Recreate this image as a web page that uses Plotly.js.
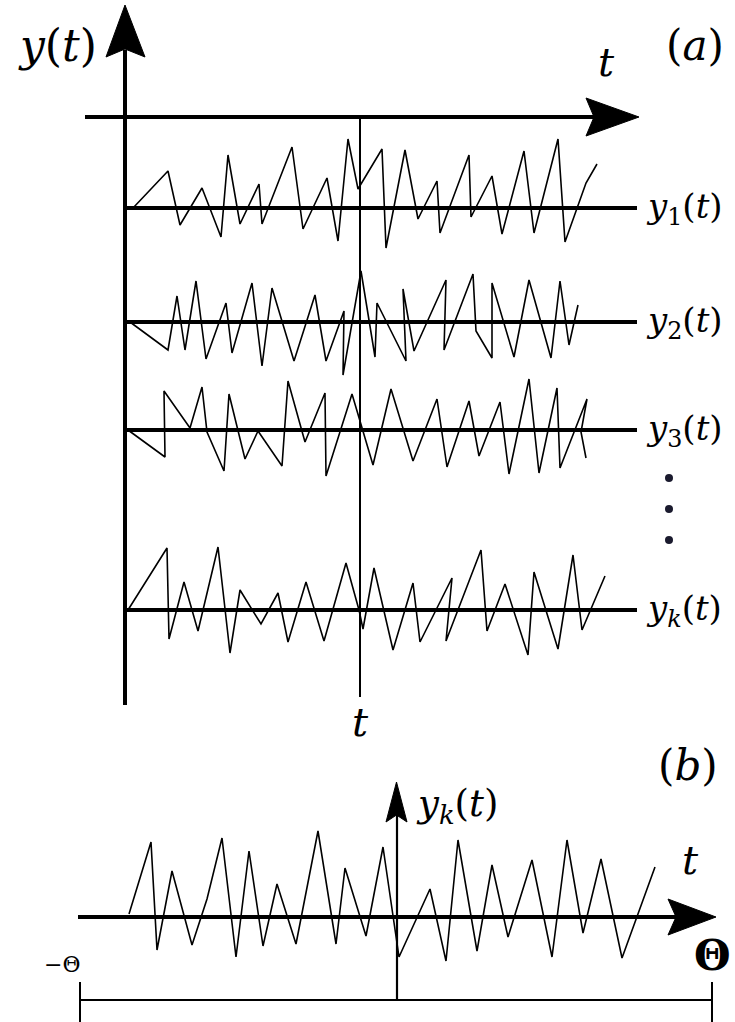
<!DOCTYPE html>
<html>
<head>
<meta charset="utf-8">
<script src="https://cdn.plot.ly/plotly-3.0.1.min.js"></script>
<style>html,body{margin:0;padding:0;background:#fff;}#chart{width:735px;height:1022px;}</style>
</head>
<body>
<div id="chart"></div>
<script>
// ---- data: sample times (t) and signal values (deviation above the row's baseline) ----
const y1_t = [133, 168, 180, 202, 221, 228, 240, 259, 262, 292, 303, 327, 338, 348, 358, 382, 386, 405, 418, 437, 440, 469, 471, 492, 502, 524, 534, 558, 565, 586, 597];
const y1_v = [0, 37, -17, 20, -29, 53, -16, 24, -16, 61, -21, 30, -33, 69, 19, 59, -40, 58, -11, 27, -25, 53, -9, 32, -26, 57, -25, 69, -34, 25, 44];

const y2_t = [130, 168, 177, 185, 196, 206, 226, 232, 252, 262, 272, 294, 315, 326, 344, 343, 361, 375, 377, 406, 403, 414, 446, 444, 473, 476, 492, 492, 514, 529, 551, 560, 569, 578];
const y2_v = [0, -28, 26, -28, 41, -37, 19, -31, 39, -44, 34, -39, 27, -39, 11, -53, 51, -35, 19, -39, 33, -29, 42, -28, 48, -9, -36, 39, -35, 42, -36, 41, -23, 17];

const y3_t = [128, 165, 164, 190, 202, 207, 224, 229, 245, 258, 282, 288, 305, 325, 326, 352, 373, 391, 413, 437, 447, 469, 479, 500, 509, 529, 539, 557, 560, 587, 581, 586];
const y3_v = [0, -27, 39, 2, 43, -2, -41, 36, -29, -1, -36, 49, -12, 37, -46, 36, -35, 41, -31, 31, -37, 29, -26, 28, -44, 51, -43, 42, -38, 31, -2, -28];

const yk_t = [128, 167, 169, 184, 198, 218, 230, 240, 261, 278, 288, 306, 324, 346, 359, 363, 374, 393, 413, 420, 452, 446, 481, 487, 505, 528, 534, 558, 573, 582, 605];
const yk_v = [0, 62, -29, 28, -21, 63, -43, 20, -14, 17, -32, 28, -31, 47, 0, -19, 42, -40, 27, -32, 32, -31, 60, -21, 26, -45, 38, -39, 55, -20, 34];

const yb_t = [129, 151, 157, 172, 192, 207, 222, 236, 249, 263, 277, 296, 318, 336, 345, 366, 383, 399, 430, 446, 458, 477, 492, 508, 532, 552, 567, 583, 601, 622, 655];
const yb_v = [3, 75, -33, 46, -28, 18, 79, -40, 66, -29, 33, -27, 86, -27, 49, -19, 70, -40, 28, -44, 77, -34, 52, -20, 57, -40, 77, -16, 58, -41, 50];

const rowNames = ['y1', 'y2', 'y3', 'yk'];
const rowLabels = ['<i>y</i><sub>1</sub>(<i>t</i>)', '<i>y</i><sub>2</sub>(<i>t</i>)', '<i>y</i><sub>3</sub>(<i>t</i>)', '<i>y<sub>k</sub></i>(<i>t</i>)'];

// ---- layout geometry (figure coordinates) ----
const baselines = [208, 322, 430, 610];
const baseB = 917;
const serif = 'DejaVu Serif, Liberation Serif, serif';

const rows = [[y1_t, y1_v], [y2_t, y2_v], [y3_t, y3_v], [yk_t, yk_v]];
const traces = [];
rows.forEach(function (r, i) {
  traces.push({
    x: r[0], y: r[1].map(function (v) { return baselines[i] - v; }),
    type: 'scatter', mode: 'lines', name: rowNames[i],
    line: {color: '#000', width: 1.6}, hoverinfo: 'skip', showlegend: false
  });
});
traces.push({
  x: yb_t, y: yb_v.map(function (v) { return baseB - v; }),
  type: 'scatter', mode: 'lines', name: 'yk (b)',
  line: {color: '#000', width: 1.6}, hoverinfo: 'skip', showlegend: false
});
// dots (vertical ellipsis)
traces.push({
  x: [669, 669, 669], y: [478, 509, 540], type: 'scatter', mode: 'markers',
  marker: {color: '#1a1a2e', size: 8}, hoverinfo: 'skip', showlegend: false
});

function line(x0, y0, x1, y1, w) {
  return {type: 'line', xref: 'x', yref: 'y', x0: x0, y0: y0, x1: x1, y1: y1, line: {color: '#000', width: w}, layer: 'below'};
}
function path(d) {
  return {type: 'path', xref: 'x', yref: 'y', path: d, fillcolor: '#000', line: {color: '#000', width: 1}};
}

const shapes = [
  // panel (a) axes
  line(125, 50, 125, 705, 4),
  line(85, 117, 600, 117, 4),
  line(360, 117, 360, 697, 2),
  path('M125,5 L106,57 L125,49 L145,57 Z'),
  path('M639,117 L586,98 L594,117 L586,136 Z'),
  // row baselines
  line(125, 208, 637, 208, 4),
  line(125, 322, 637, 322, 4),
  line(125, 430, 637, 430, 4),
  line(125, 610, 637, 610, 4),
  // panel (b)
  line(78, 917, 680, 917, 4),
  path('M716,917 L668,899 L676,917 L668,935 Z'),
  line(397, 812, 397, 1001, 2.2),
  path('M396.5,782 L386,822 L396.5,815 L407,822 Z'),
  line(80, 1000, 712, 1000, 2),
  line(80, 982, 80, 1022, 2),
  line(712, 982, 712, 1022, 2)
];

function ann(x, y, text, size, xanchor) {
  return {x: x, y: y, xref: 'x', yref: 'y', text: text, showarrow: false,
    xanchor: xanchor || 'center', yanchor: 'middle',
    font: {family: serif, size: size, color: '#000'}};
}

const annotations = [
  ann(57, 45, '<i>y</i>(<i>t</i>)', 44),
  ann(695, 45, '(<i>a</i>)', 42),
  ann(606, 62, '<i>t</i>', 40),
  ann(360, 722, '<i>t</i>', 40),
  ann(688, 765, '(<i>b</i>)', 42),
  ann(690, 860, '<i>t</i>', 40),
  ann(414, 806, '<i>y<sub>k</sub></i>(<i>t</i>)', 37, 'left'),
  ann(62, 964, '−Θ', 22),
  ann(712, 955, '<b>Θ</b>', 42)
];
rowLabels.forEach(function (lab, i) {
  annotations.push(ann(644, baselines[i], lab, 34, 'left'));
});

const layout = {
  width: 735, height: 1022,
  margin: {l: 0, r: 0, t: 0, b: 0},
  paper_bgcolor: '#fff', plot_bgcolor: '#fff',
  xaxis: {range: [0, 735], visible: false, fixedrange: true},
  yaxis: {range: [1022, 0], visible: false, fixedrange: true},
  shapes: shapes,
  annotations: annotations,
  showlegend: false
};

Plotly.newPlot('chart', traces, layout, {staticPlot: true, displayModeBar: false});
</script>
</body>
</html>
